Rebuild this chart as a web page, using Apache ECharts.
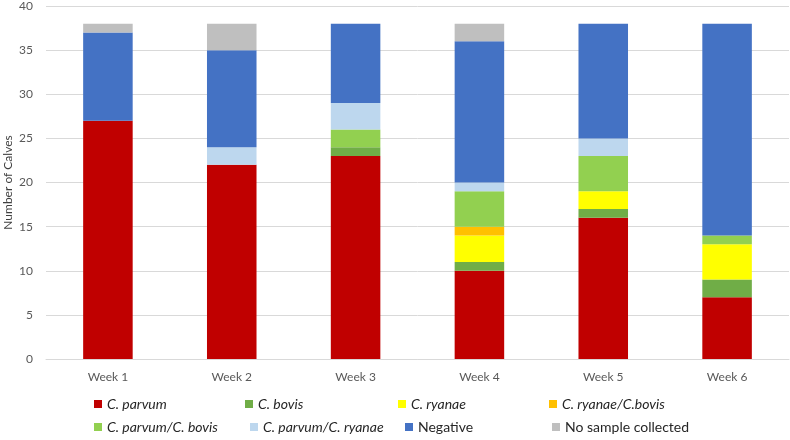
<!DOCTYPE html>
<html><head><meta charset="utf-8">
<script src="https://cdn.jsdelivr.net/npm/echarts@6/dist/echarts.min.js"></script>
<style>html,body{margin:0;padding:0;background:#fff}#c{width:790px;height:440px}</style>
</head><body><div id="c"></div>
<script>
const categories = ['Week 1','Week 2','Week 3','Week 4','Week 5','Week 6'];
const cParvum       = [27, 22, 23, 10, 16, 7];
const cBovis        = [0, 0, 1, 1, 1, 2];
const cRyanae       = [0, 0, 0, 3, 2, 4];
const cRyanaeBovis  = [0, 0, 0, 1, 0, 0];
const cParvumBovis  = [0, 0, 2, 4, 4, 1];
const cParvumRyanae = [0, 2, 3, 1, 2, 0];
const negative      = [10, 11, 9, 16, 13, 24];
const noSample      = [1, 3, 0, 2, 0, 0];
const yTicks = [0, 5, 10, 15, 20, 25, 30, 35, 40];

const seriesDefs = [
  {name:'C. parvum', data:cParvum, color:'#c00000', italic:true},
  {name:'C. bovis', data:cBovis, color:'#70ad47', italic:true},
  {name:'C. ryanae', data:cRyanae, color:'#ffff00', italic:true},
  {name:'C. ryanae/C.bovis', data:cRyanaeBovis, color:'#ffc000', italic:true},
  {name:'C. parvum/C. bovis', data:cParvumBovis, color:'#92d050', italic:true},
  {name:'C. parvum/C. ryanae', data:cParvumRyanae, color:'#bdd7ee', italic:true},
  {name:'Negative', data:negative, color:'#4472c4', italic:false},
  {name:'No sample collected', data:noSample, color:'#bfbfbf', italic:false}
];
const legendPos = [[94,397],[245,397],[398,397],[549,397],[94,420],[250,420],[405,420],[552,420]];

const chart = echarts.init(document.getElementById('c'));
chart.setOption({
  animation:false,
  textStyle:{fontFamily:'Lato'},
  grid:{left:46, right:1, top:6, bottom:81, containLabel:false, outerBoundsMode:'none'},
  legend: seriesDefs.map((s,i)=>({
    left:legendPos[i][0], top:legendPos[i][1], padding:0,
    itemWidth:8, itemHeight:8, icon:'rect', itemGap:4,
    data:[{name:s.name}],
    textStyle:{fontSize:14, color:'#262626', fontStyle:s.italic?'italic':'normal', fontFamily:'Lato', padding:[0,0,0,0]}
  })),
  xAxis:{type:'category', data:categories,
    axisLine:{lineStyle:{color:'#d9d9d9'}}, axisTick:{show:false},
    axisLabel:{color:'#595959', fontSize:12, margin:12, fontFamily:'Lato'}},
  yAxis:{type:'value', min:0, max:40, interval:5,
    name:'Number of Calves', nameLocation:'middle', nameGap:32, nameRotate:90,
    nameMoveOverlap:false,
    nameTextStyle:{color:'#404040', fontSize:12, fontFamily:'Lato'},
    axisLine:{show:false}, axisTick:{show:false},
    axisLabel:{color:'#595959', fontSize:12, margin:13, fontFamily:'Lato', formatter:v=>yTicks.includes(v)?String(v):''},
    splitLine:{lineStyle:{color:'#d9d9d9'}}},
  series: seriesDefs.map(s=>({
    name:s.name, type:'bar', stack:'total', barWidth:'40%',
    data:s.data, itemStyle:{color:s.color}
  }))
});
</script></body></html>
